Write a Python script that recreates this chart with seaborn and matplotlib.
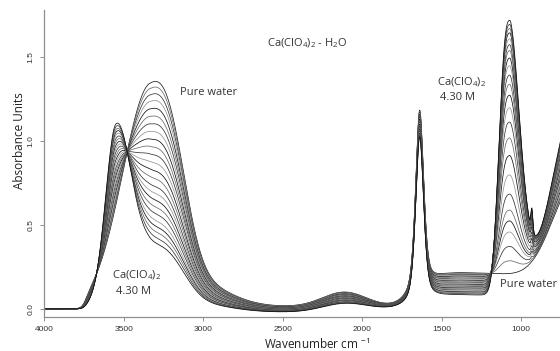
import numpy as np
import pandas as pd
import matplotlib
matplotlib.use("Agg")
import matplotlib.pyplot as plt
import seaborn as sns

# Band heights for each spectrum, from pure water (first) to 4.30 M Ca(ClO4)2 (last)
oh_bulk = [1.35, 1.316, 1.276, 1.235, 1.188, 1.141, 1.094, 1.046, 0.999, 0.952, 0.905, 0.857,
           0.810, 0.763, 0.716, 0.675, 0.635, 0.594, 0.554, 0.513, 0.479, 0.446, 0.412, 0.378]
oh_anion = [0.0, 0.033, 0.071, 0.110, 0.155, 0.200, 0.245, 0.291, 0.336, 0.380, 0.425, 0.471,
            0.516, 0.561, 0.606, 0.645, 0.684, 0.723, 0.761, 0.800, 0.833, 0.864, 0.897, 0.929]
bend = [1.080, 1.076, 1.073, 1.068, 1.064, 1.061, 1.056, 1.052, 1.049, 1.044, 1.040, 1.037,
        1.032, 1.028, 1.025, 1.020, 1.016, 1.013, 1.008, 1.004, 1.000, 0.996, 0.992, 0.988]
combination = [0.090, 0.089, 0.087, 0.085, 0.083, 0.081, 0.079, 0.077, 0.075, 0.073, 0.071, 0.069,
               0.067, 0.065, 0.063, 0.061, 0.059, 0.057, 0.055, 0.053, 0.051, 0.049, 0.047, 0.045]
baseline_shift = [0.012, 0.011, 0.009, 0.008, 0.006, 0.005, 0.003, 0.002, 0.0, -0.001, -0.003, -0.004,
                  -0.006, -0.007, -0.009, -0.010, -0.012, -0.013, -0.014, -0.016, -0.017, -0.018, -0.019, -0.020]
background = [0.210, 0.205, 0.200, 0.195, 0.190, 0.184, 0.178, 0.172, 0.166, 0.160, 0.154, 0.148,
              0.142, 0.136, 0.130, 0.125, 0.120, 0.114, 0.108, 0.102, 0.097, 0.092, 0.086, 0.080]
libration = [0.650, 0.670, 0.690, 0.715, 0.740, 0.770, 0.795, 0.820, 0.850, 0.875, 0.900, 0.930,
             0.955, 0.980, 1.010, 1.030, 1.055, 1.080, 1.100, 1.125, 1.145, 1.160, 1.180, 1.200]
clo4_nu3 = [0.0, 0.08, 0.17, 0.26, 0.33, 0.40, 0.50, 0.62, 0.74, 0.85, 0.95, 1.04,
            1.12, 1.19, 1.25, 1.31, 1.36, 1.41, 1.45, 1.49, 1.53, 1.56, 1.59, 1.62]
clo4_nu1 = [0.0, 0.005, 0.010, 0.015, 0.020, 0.027, 0.033, 0.040, 0.046, 0.052, 0.058, 0.064,
            0.070, 0.076, 0.082, 0.088, 0.094, 0.100, 0.105, 0.110, 0.115, 0.120, 0.125, 0.130]

x_ticks = [4000, 3500, 3000, 2500, 2000, 1500, 1000]
y_ticks = [0.0, 0.5, 1.0, 1.5]

wn = np.arange(4000.0, 748.0, -2.0)


def band(x, centre, s_hi, s_lo, p_hi=2.0, p_lo=2.0):
    d = x - centre
    z = np.where(d >= 0, (np.abs(d) / s_hi) ** p_hi, (np.abs(d) / s_lo) ** p_lo)
    return np.exp(-z)


def lorentz(x, centre, gamma):
    return 1.0 / (1.0 + ((x - centre) / gamma) ** 2)


# detector cut-off above ~3750 cm-1
edge = 1.0 / (1.0 + np.exp((wn - 3745.0) / 15.0))
bulk_shape = (0.92 * band(wn, 3335, 250, 245, 2.0, 2.7) + 0.13 * band(wn, 3100, 312, 312)) * edge
anion_shape = band(wn, 3550, 90, 127) * edge
bend_shape = 0.5 * lorentz(wn, 1638, 30) + 0.5 * band(wn, 1638, 36, 36)
comb_shape = band(wn, 2110, 198, 198)
bg_shape = band(wn, 1250, 420, 700, 4.0, 2.0)
shift_shape = band(wn, 2500, 636, 636)
lib_shape = band(wn, 650, 212, 212)
nu3_shape = band(wn, 1072, 81, 93, 2.7, 1.8)
nu1_shape = band(wn, 932, 8.5, 8.5)

frames = []
for i in range(len(oh_bulk)):
    absorb = (oh_bulk[i] * bulk_shape + oh_anion[i] * anion_shape + bend[i] * bend_shape
              + combination[i] * comb_shape + background[i] * bg_shape
              + baseline_shift[i] * shift_shape + libration[i] * lib_shape
              + clo4_nu3[i] * nu3_shape + clo4_nu1[i] * nu1_shape)
    frames.append(pd.DataFrame({"wavenumber": wn, "absorbance": absorb, "spectrum": i}))
df = pd.concat(frames, ignore_index=True)

greys = ["#111111", "#6a6a6a", "#353535", "#949494"]
palette = [greys[i % len(greys)] for i in range(len(oh_bulk))]
palette[0] = "#1a1a1a"
palette[-1] = "#111111"

sns.set_theme(style="ticks")
plt.rcParams["font.family"] = ["Open Sans", "DejaVu Sans"]
plt.rcParams["mathtext.default"] = "regular"
plt.rcParams["axes.unicode_minus"] = False

fig = plt.figure(figsize=(5.6, 3.51), dpi=100)
ax = fig.add_axes([0.079, 0.097, 0.921, 0.8746])

sns.lineplot(data=df, x="wavenumber", y="absorbance", hue="spectrum", palette=palette,
             legend=False, linewidth=0.55, sort=False, estimator=None, ax=ax)

ax.set_xlim(4000, 755)
ax.set_ylim(-0.048, 1.78)
sns.despine(ax=ax)
spine_col = "#8f8f8f"
for side in ("left", "bottom"):
    ax.spines[side].set_color(spine_col)
    ax.spines[side].set_linewidth(0.9)

tick_font = ["Liberation Sans Narrow", "Liberation Sans", "DejaVu Sans"]
ax.set_xticks(x_ticks)
ax.set_xticklabels([str(t) for t in x_ticks], family=tick_font, fontsize=6, color="#333333")
ax.set_yticks(y_ticks)
ax.set_yticklabels([f"{t:.1f}" for t in y_ticks], family=tick_font, fontsize=6,
                   color="#333333", rotation=90, va="center")
ax.tick_params(axis="x", length=3, width=0.7, color=spine_col, pad=3.5)
ax.tick_params(axis="y", length=3, width=0.7, color=spine_col, pad=4)

ax.set_xlabel("Wavenumber cm $^{-1}$", fontsize=8.5, color="#222222", va="top")
ax.xaxis.set_label_coords(0.529, -0.064)
ax.set_ylabel("Absorbance Units", fontsize=8.5, color="#222222")
ax.yaxis.set_label_coords(-0.036, 0.573)

txt = dict(fontsize=8, color="#333333")
ax.text(2347, 1.583, "Ca(ClO$_4$)$_2$ - H$_2$O", ha="center", va="center", **txt)
ax.text(3145, 1.286, "Pure water", ha="left", va="center", **txt)
ax.text(3422, 0.202, "Ca(ClO$_4$)$_2$", ha="center", va="center", **txt)
ax.text(3435, 0.101, "4.30 M", ha="center", va="center", **txt)
ax.text(1377, 1.351, "Ca(ClO$_4$)$_2$", ha="center", va="center", **txt)
ax.text(1402, 1.256, "4.30 M", ha="center", va="center", **txt)
ax.text(1132, 0.143, "Pure water", ha="left", va="center", **txt)

fig.savefig("out.png", dpi=100)
